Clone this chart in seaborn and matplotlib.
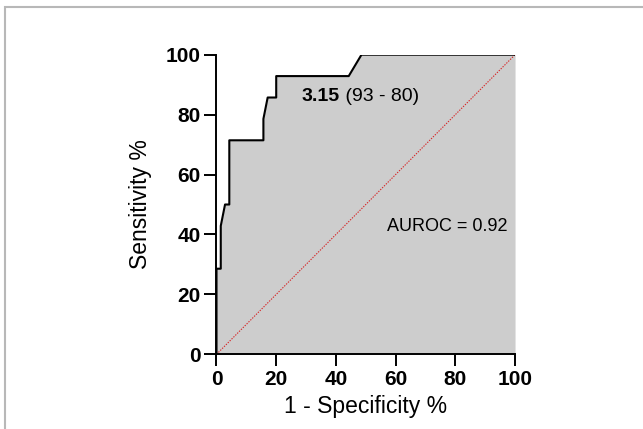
import matplotlib
matplotlib.use("Agg")
import matplotlib.pyplot as plt
import seaborn as sns
import pandas as pd
from matplotlib.patches import Rectangle

# ROC curve data
fpr = [0, 0, 1.43, 1.43, 2.86, 4.29, 4.29, 15.71, 15.71, 17.14, 20, 20, 44.29, 48.57, 100]
sens = [0, 28.57, 28.57, 42.86, 50, 50, 71.43, 71.43, 78.57, 85.71, 85.71, 92.86, 92.86, 100, 100]
diag_x = [0, 100]
diag_y = [0, 100]
ticks = [0, 20, 40, 60, 80, 100]
cutoff_label = "3.15"
cutoff_detail = " (93 - 80)"
auroc_label = "AUROC = 0.92"

sns.set_theme(style="ticks")
plt.rcParams['font.family'] = ['Liberation Sans', 'DejaVu Sans']

fig = plt.figure(figsize=(6.43, 4.29), dpi=100)
ax = fig.add_axes([0.3367, 0.1741, 0.801 - 0.3367, 0.8725 - 0.1741])

df = pd.DataFrame({"fpr": fpr, "sens": sens})
ax.fill_between(df["fpr"], 0, df["sens"], color="#cdcdcd", linewidth=0, zorder=1)
sns.lineplot(data=df, x="fpr", y="sens", sort=False, estimator=None, color="black",
             linewidth=1.5, ax=ax, zorder=3)
ddf = pd.DataFrame({"x": diag_x, "y": diag_y})
sns.lineplot(data=ddf, x="x", y="y", color="#d62728", linestyle=(0, (1.2, 1.2)),
             linewidth=0.8, ax=ax, zorder=2)

for s in ["top", "right"]:
    ax.spines[s].set_visible(False)
for s in ["left", "bottom"]:
    ax.spines[s].set_linewidth(1.4)
    ax.spines[s].set_color("black")

ax.set_xlim(0, 100)
ax.set_ylim(0, 100)
ax.set_xticks(ticks)
ax.set_yticks(ticks)
ax.set_xticklabels([str(t) for t in ticks])
ax.set_yticklabels([str(t) for t in ticks])
ax.tick_params(axis="both", length=8.5, width=1.4, color="black", pad=3,
               labelcolor="black", labelsize=15)
for lab in ax.get_xticklabels() + ax.get_yticklabels():
    lab.set_fontweight("bold")
ax.set_xlabel("1 - Specificity %", fontsize=16.5, color="black", labelpad=4)
ax.set_ylabel("Sensitivity %", fontsize=16.5, color="black", labelpad=10)

t = ax.text(28.6, 86, cutoff_label, fontsize=14, fontweight="bold", va="center", ha="left", color="black", zorder=4)
fig.canvas.draw()
bb = t.get_window_extent()
x_end = ax.transData.inverted().transform((bb.x1, bb.y0))[0]
ax.text(x_end, 86, cutoff_detail, fontsize=14, va="center", ha="left", color="black", zorder=4)
ax.text(57, 42.5, auroc_label, fontsize=13, va="center", ha="left", color="black", zorder=4)

# light frame around figure
fig.patches.append(Rectangle((5 / 643, -0.1), 1.2, 1 - 7 / 429 + 0.1, transform=fig.transFigure,
                             fill=False, edgecolor="#b8b8b8", linewidth=1.5, zorder=0))

fig.savefig("out.png", dpi=100)
